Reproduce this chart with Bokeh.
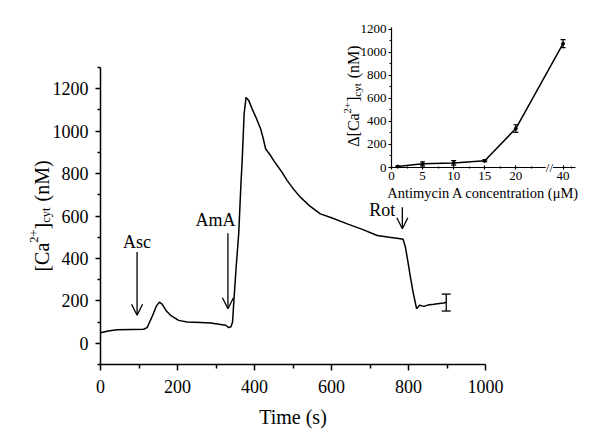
from math import pi
from bokeh.plotting import figure
from bokeh.models import (FixedTicker, Label, Arrow, OpenHead, Whisker, TeeHead,
                          ColumnDataSource, Range1d, LinearAxis)
from bokeh.embed import file_html
from bokeh.resources import INLINE

# ---------------- data: main trace ----------------
time_s = [0, 20, 43, 80, 112, 121, 135, 145, 153, 160, 170, 182, 203, 225, 260, 286,
          325, 333, 339, 343, 346, 352, 359, 365, 368, 373, 378, 385, 394, 405, 416,
          422, 429, 440, 450, 470, 485, 500, 519, 545, 571, 600, 641, 680, 719, 750,
          779, 786, 792, 798, 805, 812, 821, 829, 840, 850, 866, 880, 892, 898]
ca_nM = [50, 58, 64, 65, 66, 74, 130, 175, 194, 185, 155, 132, 108, 100, 98, 96,
         85, 74, 78, 100, 187, 350, 517, 760, 861, 1080, 1159, 1145, 1104, 1060, 1010,
         970, 916, 890, 861, 810, 767, 730, 689, 645, 610, 592, 563, 537, 508, 500,
         493, 490, 453, 390, 312, 240, 163, 179, 174, 180, 184, 188, 190, 193]
end_time = [898]
end_mean = [192]
end_sd = [40]

events = ["Asc", "AmA", "Rot"]
event_time = [95, 331, 784]
arrow_from = [430, 519, 641]
arrow_to = [132, 163, 540]
event_label_x = [95, 299, 732]
event_label_y = [477, 579, 629]

x_ticks = [0, 200, 400, 600, 800, 1000]
x_minor = [100, 300, 500, 700, 900]
y_ticks = [0, 200, 400, 600, 800, 1000, 1200]
y_minor = [-100, 100, 300, 500, 700, 900, 1100, 1300]

# ---------------- data: inset ----------------
conc_uM = [1, 5, 10, 15, 20, 40]
delta_nM = [8, 32, 40, 58, 338, 1075]
delta_err = [5, 18, 20, 8, 33, 35]
conc_ticks = [0, 5, 10, 15, 20, 40]
inset_y_ticks = [0, 200, 400, 600, 800, 1000, 1200]
inset_y_minor = [100, 300, 500, 700, 900, 1100]
break_pos = 25.4          # axis break drawn between 20 and 40
pos_40 = 27.6             # display position of 40 after the break


def conc_pos(c):
    return c if c <= 20 else pos_40


FONT = "Liberation Serif"
W, H = 592, 438

# ---- layout: pixel anchors of the two plot areas (page coordinates) ----
MX0, MX1, MXP0, MXP1 = 0, 1000, 100.0, 485.0
MY0, MY1, MYP0, MYP1 = -100, 1300, 364.0, 67.0
IX0, IX1, IXP0, IXP1 = 0, 29.6, 391.0, 575.0
IY0, IY1, IYP0, IYP1 = 0, 1215, 167.0, 27.0


def full_range(v0, v1, p0, p1, lo_px, hi_px):
    k = (v1 - v0) / (p1 - p0)
    return Range1d(v0 + (lo_px - p0) * k, v0 + (hi_px - p0) * k)


ADV = {'[': 333, ']': 333, 'C': 667, 'a': 444, '2': 500, '+': 564, 'c': 444, 'y': 500,
       't': 278, ' ': 250, '(': 333, ')': 333, 'n': 500, 'M': 889, 'Δ': 612}


def text_w(s, size):
    return sum(ADV.get(ch, 500) for ch in s) * size / 1000.0


def rotated_label(fig, x, y_center, pieces, **rng):
    # pieces: (text, font px, baseline shift px, gap before px)
    total = sum(text_w(t, s) + g for t, s, _, g in pieces)
    off = -total / 2.0
    for t, s, shift, g in pieces:
        off += g
        fig.add_layout(Label(x=x, y=y_center, x_offset=-shift, y_offset=off, text=t,
                             angle=pi / 2, text_font=FONT, text_font_size=f"{s}px",
                             text_align="left", text_baseline="alphabetic",
                             text_color="black", **rng))
        off += text_w(t, s)


def make_axis(ticker, tick_size, lw, t_in, t_out, m_in, m_out, standoff, **kw):
    return LinearAxis(ticker=ticker, axis_line_width=lw, major_tick_line_width=lw,
                      minor_tick_line_width=lw, axis_line_color="black",
                      major_tick_line_color="black", minor_tick_line_color="black",
                      major_tick_in=t_in, major_tick_out=t_out, minor_tick_in=m_in,
                      minor_tick_out=m_out, major_label_standoff=standoff,
                      major_label_text_font=FONT, major_label_text_font_size=tick_size,
                      major_label_text_color="black", axis_label_text_font=FONT,
                      axis_label_text_font_style="normal", axis_label_text_color="black",
                      **kw)


p = figure(width=W, height=H,
           x_range=full_range(MX0, MX1, MXP0, MXP1, 0, W),
           y_range=full_range(MY0, MY1, MYP0, MYP1, H, 0),
           x_axis_type=None, y_axis_type=None,
           output_backend="svg", toolbar_location=None)
p.min_border_left = p.min_border_right = p.min_border_top = p.min_border_bottom = 0
p.outline_line_color = None
p.grid.visible = False
p.extra_x_ranges = {"ix": full_range(IX0, IX1, IXP0, IXP1, 0, W)}
p.extra_y_ranges = {"iy": full_range(IY0, IY1, IYP0, IYP1, H, 0)}

# ---------------- main axes ----------------
xa = make_axis(FixedTicker(ticks=x_ticks, minor_ticks=x_minor), "18px", 1.5, 0, 6, 0, 4, 9,
               fixed_location=MY0, bounds=(MX0, MX1), axis_label="Time (s)",
               axis_label_text_font_size="20px", axis_label_standoff=10)
ya = make_axis(FixedTicker(ticks=y_ticks, minor_ticks=y_minor), "18px", 1.5, 0, 5, 0, 3, 7,
               fixed_location=MX0, bounds=(MY0, MY1))
p.add_layout(xa, "below")
p.add_layout(ya, "left")

p.line(time_s, ca_nM, line_color="black", line_width=1.5)

esrc = ColumnDataSource(dict(t=end_time, up=[m + s for m, s in zip(end_mean, end_sd)],
                             lo=[m - s for m, s in zip(end_mean, end_sd)]))
p.add_layout(Whisker(base="t", upper="up", lower="lo", source=esrc, dimension="height",
                     line_width=1.3, line_color="black",
                     upper_head=TeeHead(size=9, line_width=1.3, line_color="black"),
                     lower_head=TeeHead(size=9, line_width=1.3, line_color="black")))

asrc = ColumnDataSource(dict(x=event_time, y0=arrow_from, y1=arrow_to))
p.add_layout(Arrow(x_start="x", y_start="y0", x_end="x", y_end="y1", source=asrc,
                   line_width=1.3, line_color="black",
                   end=OpenHead(size=11, line_width=1.3, line_color="black")))
for name, lx, ly in zip(events, event_label_x, event_label_y):
    p.add_layout(Label(x=lx, y=ly, text=name, text_align="center", text_baseline="middle",
                       text_font=FONT, text_font_size="18px", text_color="black"))

rotated_label(p, -153, 600, [("[Ca", 20, 0, 0), ("2+", 12.5, 7.5, 0), ("]", 20, 0, 0),
                             ("cyt", 12.5, -4, 0), ("(nM)", 20, 0, 6)])

# ---------------- inset ----------------
IR = dict(x_range_name="ix", y_range_name="iy")
tick_pos = [conc_pos(c) for c in conc_ticks]
ixa = make_axis(FixedTicker(ticks=tick_pos, minor_ticks=[2.5, 7.5, 12.5, 17.5, 22.5, 29.0]),
                "13px", 1.2, 2, 2, 1, 1, 2, fixed_location=IY0, bounds=(IX0, IX1),
                axis_label="Antimycin A concentration (μM)",
                axis_label_text_font_size="14.5px", axis_label_standoff=2, **IR)
ixa.major_label_overrides = {tp: str(c) for tp, c in zip(tick_pos, conc_ticks)}
iya = make_axis(FixedTicker(ticks=inset_y_ticks, minor_ticks=inset_y_minor),
                "13px", 1.2, 0, 3, 0, 2, 2, fixed_location=IX0, bounds=(IY0, IY1), **IR)
p.add_layout(ixa, "below")
p.add_layout(iya, "left")

xs = [conc_pos(c) for c in conc_uM]
p.line(xs, delta_nM, line_color="black", line_width=1.5, **IR)
p.scatter(xs, delta_nM, size=3, color="black", **IR)
isrc = ColumnDataSource(dict(x=xs, up=[d + e for d, e in zip(delta_nM, delta_err)],
                             lo=[d - e for d, e in zip(delta_nM, delta_err)]))
p.add_layout(Whisker(base="x", upper="up", lower="lo", source=isrc, dimension="height",
                     line_width=1.2, line_color="black",
                     upper_head=TeeHead(size=5, line_width=1.2, line_color="black"),
                     lower_head=TeeHead(size=5, line_width=1.2, line_color="black"), **IR))
p.add_layout(Label(x=break_pos, y=0, text="//", text_align="center", text_baseline="middle",
                   text_font=FONT, text_font_size="13px", text_color="black",
                   background_fill_color="white", level="overlay", **IR))

rotated_label(p, -6.1, 620, [("Δ[Ca", 16, 0, 0), ("2+", 11, 6, 0), ("]", 16, 0, 0),
                             ("cyt", 11, -3.5, 0), ("(nM)", 16, 0, 5)], **IR)

open("out.html", "w").write(file_html(p, INLINE))
